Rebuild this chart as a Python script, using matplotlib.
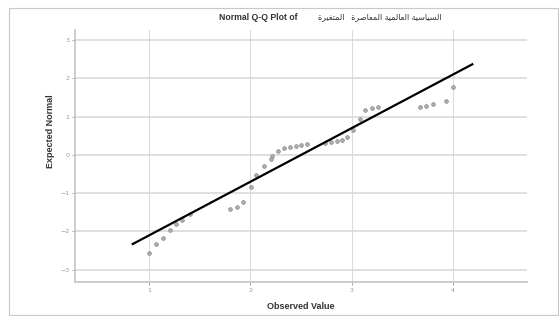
import matplotlib
matplotlib.use("Agg")
import matplotlib.pyplot as plt
from matplotlib.patches import Rectangle
import numpy as np

observed = [1.00, 1.07, 1.135, 1.21, 1.27, 1.33, 1.40, 1.80, 1.87, 1.93,
            2.01, 2.06, 2.135, 2.20, 2.21, 2.27, 2.33, 2.39, 2.45, 2.50,
            2.56, 2.74, 2.80, 2.86, 2.90, 2.95, 3.01, 3.08, 3.13, 3.20,
            3.26, 3.67, 3.73, 3.80, 3.93, 4.00]
expected = [-2.57, -2.32, -2.18, -1.95, -1.80, -1.70, -1.54, -1.42, -1.37, -1.24,
            -0.84, -0.52, -0.29, -0.11, -0.04, 0.10, 0.17, 0.21, 0.24, 0.26,
            0.28, 0.31, 0.33, 0.37, 0.40, 0.46, 0.65, 0.93, 1.17, 1.22,
            1.24, 1.26, 1.28, 1.32, 1.41, 1.77]

# reference line y = (x - mean) / sd
line_mean = 2.502
line_sd = 0.714
line_x = [0.84, 4.19]

x_ticks = [1, 2, 3, 4]
y_ticks = [-3, -2, -1, 0, 1, 2, 3]

title_words = ["السياسية", "العالمية", "المعاصرة", "المتغيرة"]

# matplotlib has no arabic shaping, so pick presentation forms by hand
AR_BASE = {
    'ا': 0xFE8D, 'ب': 0xFE8F, 'ة': 0xFE93, 'ت': 0xFE95, 'ح': 0xFEA1,
    'د': 0xFEA9, 'ر': 0xFEAD, 'ز': 0xFEAF, 'س': 0xFEB1, 'ص': 0xFEB9,
    'ع': 0xFEC9, 'غ': 0xFECD, 'ف': 0xFED1, 'ك': 0xFED9, 'ل': 0xFEDD,
    'م': 0xFEE1, 'ن': 0xFEE5, 'ه': 0xFEE9, 'و': 0xFEED, 'ي': 0xFEF1,
}
NON_LEFT = set('اةدذرزو')


def shape_word(word):
    out = []
    for i, ch in enumerate(word):
        prev_joins = i > 0 and word[i - 1] not in NON_LEFT
        next_joins = i < len(word) - 1 and ch not in NON_LEFT
        if prev_joins and next_joins:
            form = 3
        elif prev_joins:
            form = 1
        elif next_joins:
            form = 2
        else:
            form = 0
        out.append(chr(AR_BASE[ch] + form))
    return ''.join(reversed(out))


visual_ar = shape_word(title_words[-1]) + "   " + \
    " ".join(shape_word(w) for w in reversed(title_words[:-1]))

fig = plt.figure(figsize=(5.59, 3.16), dpi=100)
fig.patch.set_facecolor("white")

# outer frame
fig.patches.append(Rectangle((9 / 559, 0.003), 549 / 559, 1 - 8 / 316 - 0.003,
                             transform=fig.transFigure, fill=False,
                             edgecolor="#c8c8c8", lw=0.8))

ax = fig.add_axes([75 / 559, 34 / 316, 452 / 559, 252 / 316])

for v in x_ticks:
    ax.axvline(v, color="#dcdcdc", lw=0.8, zorder=0)
for v in y_ticks:
    ax.axhline(v, color="#d6d6d6", lw=1.1, zorder=0)

ax.scatter(observed, expected, s=7, facecolor="#b0b0b0", edgecolor="#858585",
           linewidths=0.5, zorder=3)

lx = np.array(line_x)
ax.plot(lx, (lx - line_mean) / line_sd, color="black", lw=1.6, zorder=4)

ax.set_xlim(0.27, 4.73)
ax.set_ylim(-3.32, 3.26)
ax.set_xticks(x_ticks)
ax.set_yticks(y_ticks)
ax.tick_params(axis="both", labelsize=4.5, colors="#999999", length=2, width=0.6, pad=2)

for side in ["top", "right"]:
    ax.spines[side].set_visible(False)
for side in ["left", "bottom"]:
    ax.spines[side].set_color("#c4c4c4")
    ax.spines[side].set_linewidth(1.2)

font = ["Liberation Sans", "DejaVu Sans"]
ax.set_xlabel("Observed Value", fontsize=6.5, fontweight="bold", color="#333333",
              family=font, labelpad=7)
ax.set_ylabel("Expected Normal", fontsize=6.5, fontweight="bold", color="#333333",
              family=font)
ax.yaxis.set_label_coords(-0.045, 0.6)

fig.text(219 / 559, 1 - 17 / 316, "Normal Q-Q Plot of",
         ha="left", va="center", fontsize=6.2, fontweight="bold",
         color="#333333", family=font)
fig.text(442 / 559, 1 - 17 / 316, visual_ar,
         ha="right", va="center", fontsize=5.8,
         color="#333333", family=font)

fig.savefig("out.png", dpi=100, facecolor="white")
